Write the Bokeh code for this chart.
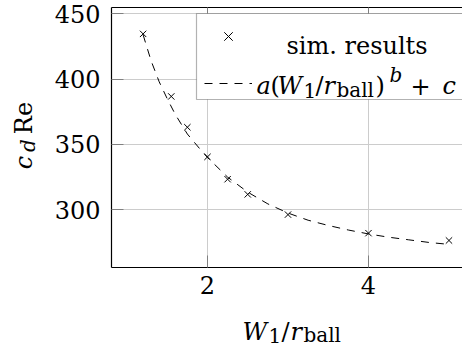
from bokeh.plotting import figure
from bokeh.layouts import row, column
from bokeh.models import (Range1d, FixedTicker, LinearAxis, Label, BoxAnnotation,
                          Legend, LegendItem, ColumnDataSource)
from bokeh.embed import file_html
from bokeh.resources import INLINE

# ---- data ----
ratio = [1.2, 1.55, 1.75, 2.0, 2.25, 2.5, 3.0, 4.0, 5.0]
cdre = [434.7, 386.8, 363.2, 340.5, 323.4, 311.8, 296.3, 282.1, 276.5]

fit_ratio = [1.2, 1.3, 1.4, 1.5, 1.6, 1.75, 1.9, 2.0, 2.25, 2.5, 2.75, 3.0,
             3.25, 3.5, 3.75, 4.0, 4.25, 4.5, 4.75, 5.0]
fit_cdre = [434, 414, 398, 385, 373, 358, 347, 340, 325, 313.5, 304.5, 297.5,
            292, 288, 284.5, 281.5, 279, 277, 275, 273.5]

x_ticks = [2, 4]
y_ticks = [300, 350, 400, 450]

FONT = "DejaVu Serif"
FS = "24px"
FS_SUB = "20px"

# ---------------- main plot ----------------
fig = figure(width=422, height=307, output_backend="svg", toolbar_location=None,
             x_range=Range1d(0.8075, 5.168), y_range=Range1d(255.8, 454.9),
             min_border_left=71, min_border_right=0, min_border_top=7,
             min_border_bottom=40, frame_align=False)
fig.outline_line_color = None
fig.background_fill_color = "white"

for ax in (fig.xaxis[0], fig.yaxis[0]):
    ax.major_label_text_font = FONT
    ax.major_label_text_font_size = FS
    ax.major_label_text_color = "black"
    ax.axis_line_color = "black"
    ax.axis_line_width = 1.2
    ax.major_tick_in = 12
    ax.major_tick_out = 0
    ax.major_tick_line_color = "#808080"
    ax.minor_tick_line_color = None
fig.xaxis[0].ticker = FixedTicker(ticks=x_ticks)
fig.yaxis[0].ticker = FixedTicker(ticks=y_ticks)
fig.xaxis[0].major_label_standoff = 8
fig.yaxis[0].major_label_standoff = 11

top = LinearAxis(ticker=FixedTicker(ticks=x_ticks), major_label_text_font_size="0px",
                 major_label_standoff=0, major_tick_in=12, major_tick_out=0,
                 major_tick_line_color="#808080", minor_tick_line_color=None,
                 axis_line_color="black", axis_line_width=1.2)
fig.add_layout(top, "above")

fig.xgrid.ticker = FixedTicker(ticks=x_ticks)
fig.ygrid.ticker = FixedTicker(ticks=y_ticks)
fig.grid.grid_line_color = "#cccccc"
fig.grid.grid_line_width = 1

fit_src = ColumnDataSource(dict(x=fit_ratio, y=fit_cdre))
pts_src = ColumnDataSource(dict(x=ratio, y=cdre))
fit_r = fig.line("x", "y", source=fit_src, line_color="black", line_width=1,
                 line_dash="8 7")
pts_r = fig.scatter("x", "y", source=pts_src, marker="x", size=9,
                    line_color="black", line_width=1)

box = BoxAnnotation(left=85, right=420, top=254, bottom=168,
                    left_units="screen", right_units="screen",
                    top_units="screen", bottom_units="screen",
                    fill_color="white", fill_alpha=1.0,
                    line_color="black", line_width=1.2, level="annotation")
fig.add_layout(box)

legend = Legend(items=[LegendItem(label=" ", renderers=[pts_r]),
                       LegendItem(label=" ", renderers=[fit_r])],
                location=(93, 169), border_line_color=None,
                background_fill_alpha=0, padding=0, margin=0,
                glyph_width=48, glyph_height=30, spacing=17,
                label_width=1, label_standoff=0, label_text_font_size="1px",
                label_height=1)
fig.add_layout(legend)


def txt(f, ox, oy, s, wx, wy, size=FS, italic=False, angle=0.0, align="left",
        baseline="alphabetic"):
    """Place a text piece at window position (wx, wy); (ox, oy) is the window
    position of the figure frame's bottom-left corner."""
    f.add_layout(Label(x=wx - ox, y=oy - wy, x_units="screen", y_units="screen",
                       text=s, text_font=FONT, text_font_size=size,
                       text_font_style="italic" if italic else "normal",
                       text_color="black", text_align=align,
                       text_baseline=baseline, angle=angle))


M = (fig, 111, 267)
txt(*M, "sim. results", 356.5, 45, align="center")
txt(*M, "a", 256, 85, italic=True)
txt(*M, "(", 270, 85)
txt(*M, "W", 277, 85, italic=True)
txt(*M, "1", 303, 89.5, size=FS_SUB)
txt(*M, "/", 315, 85)
txt(*M, "r", 323, 85, italic=True)
txt(*M, "ball", 336, 89.5, size=FS_SUB)
txt(*M, ")", 375, 85)
txt(*M, "b", 389, 74, size=FS_SUB, italic=True)
txt(*M, "+", 410, 85)
txt(*M, "c", 442, 85, italic=True)

# ---------------- y axis label strip ----------------
ylab = figure(width=40, height=307, output_backend="svg", toolbar_location=None,
              x_axis_location=None, y_axis_location=None, min_border=0,
              x_range=Range1d(0, 1), y_range=Range1d(0, 1), frame_align=False)
ylab.outline_line_color = None
ylab.background_fill_color = "white"
ylab.border_fill_color = "white"
ylab.grid.visible = False
Y = (ylab, 0, 307)
txt(*Y, "c", 23.5, 162, italic=True, angle=1.5708, align="center", baseline="middle")
txt(*Y, "d", 27.5, 145, size=FS_SUB, italic=True, angle=1.5708, align="center",
    baseline="middle")
txt(*Y, "Re", 23.5, 117.5, angle=1.5708, align="center", baseline="middle")

# ---------------- x axis label strip ----------------
xlab = figure(width=462, height=37, output_backend="svg", toolbar_location=None,
              x_axis_location=None, y_axis_location=None, min_border=0,
              x_range=Range1d(0, 1), y_range=Range1d(0, 1), frame_align=False)
xlab.outline_line_color = None
xlab.background_fill_color = "white"
xlab.border_fill_color = "white"
xlab.grid.visible = False
X = (xlab, 0, 344)
txt(*X, "W", 242, 331.5, italic=True)
txt(*X, "1", 268, 334.5, size=FS_SUB)
txt(*X, "/", 281, 331.5)
txt(*X, "r", 290, 331.5, italic=True)
txt(*X, "ball", 303, 334.5, size=FS_SUB)

p = column(row(ylab, fig, spacing=0), xlab, spacing=0)

open("out.html", "w").write(file_html(p, INLINE))
